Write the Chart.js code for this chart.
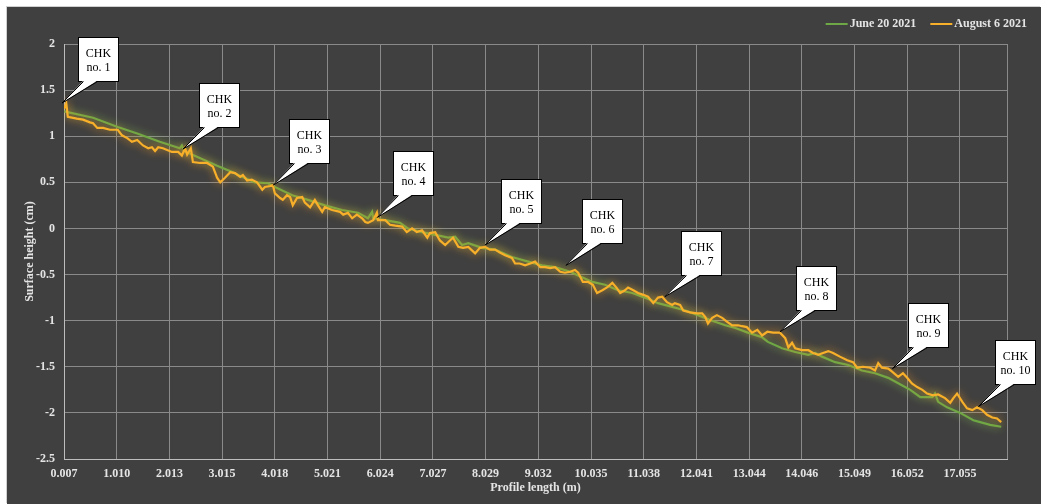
<!DOCTYPE html>
<html>
<head>
<meta charset="utf-8">
<script src="https://cdn.jsdelivr.net/npm/chart.js@4.4.0/dist/chart.umd.min.js"></script>
<style>
  html, body { margin: 0; padding: 0; background: #fff; }
  #wrap { position: absolute; left: 7px; top: 7px; width: 1034px; height: 497px; background: #404040; box-shadow: -1px -1px 0 #d0d0d0; }
  canvas { display: block; }
</style>
</head>
<body>
<div id="wrap"><canvas id="chart" width="1034" height="497"></canvas></div>
<script>
// profile readings: [profile length (m), surface height (cm)]
const june20 = [
  [0.01,1.27],[0.56,1.20],[1.03,1.10],[1.40,1.03],[1.83,0.94],[2.21,0.87],[2.25,0.90],[2.29,0.84],
  [2.60,0.76],[2.92,0.68],[3.22,0.61],[3.32,0.58],[3.64,0.50],[3.89,0.49],[4.02,0.45],[4.35,0.36],
  [4.65,0.31],[4.97,0.25],[5.30,0.20],[5.60,0.17],[5.79,0.11],[5.87,0.18],[5.89,0.11],[6.12,0.09],
  [6.40,0.06],[6.55,0.00],[6.82,-0.04],[7.07,-0.07],[7.32,-0.10],[7.45,-0.09],[7.58,-0.18],[7.70,-0.16],
  [7.96,-0.21],[8.21,-0.23],[8.53,-0.31],[8.84,-0.36],[9.10,-0.40],[9.35,-0.42],[9.64,-0.47],[9.79,-0.51],
  [10.06,-0.58],[10.30,-0.61],[10.55,-0.67],[10.82,-0.70],[11.06,-0.75],[11.31,-0.81],[11.58,-0.85],
  [11.83,-0.89],[12.07,-0.94],[12.34,-1.00],[12.59,-1.05],[12.78,-1.08],[13.02,-1.13],[13.29,-1.18],
  [13.40,-1.23],[13.67,-1.30],[13.92,-1.34],[14.17,-1.37],[14.30,-1.35],[14.43,-1.39],[14.68,-1.45],
  [14.93,-1.48],[15.19,-1.54],[15.44,-1.57],[15.69,-1.62],[15.95,-1.70],[16.11,-1.75],[16.30,-1.83],
  [16.53,-1.83],[16.58,-1.79],[16.64,-1.88],[16.81,-1.94],[17.06,-2.00],[17.31,-2.08],[17.44,-2.10],
  [17.63,-2.13],[17.84,-2.15]
];

const august6 = [
  [0.01,1.30],[0.05,1.36],[0.08,1.21],[0.25,1.19],[0.37,1.18],[0.50,1.15],[0.56,1.14],[0.64,1.09],
  [0.75,1.09],[0.88,1.07],[1.03,1.07],[1.11,1.01],[1.21,0.98],[1.30,0.94],[1.40,0.96],[1.51,0.90],
  [1.61,0.87],[1.68,0.88],[1.74,0.84],[1.80,0.88],[1.89,0.87],[2.06,0.83],[2.18,0.83],[2.25,0.79],
  [2.31,0.87],[2.35,0.80],[2.42,0.87],[2.46,0.72],[2.60,0.71],[2.73,0.71],[2.84,0.67],[2.92,0.55],
  [2.98,0.50],[3.07,0.55],[3.17,0.61],[3.26,0.60],[3.36,0.56],[3.41,0.58],[3.49,0.52],[3.58,0.53],
  [3.68,0.50],[3.78,0.42],[3.83,0.45],[3.93,0.46],[3.98,0.47],[4.02,0.38],[4.12,0.33],[4.17,0.31],
  [4.25,0.36],[4.31,0.34],[4.36,0.25],[4.44,0.33],[4.54,0.34],[4.59,0.28],[4.69,0.23],[4.78,0.31],
  [4.84,0.25],[4.92,0.18],[4.97,0.23],[5.11,0.20],[5.26,0.18],[5.32,0.15],[5.41,0.17],[5.49,0.11],
  [5.58,0.15],[5.68,0.11],[5.74,0.07],[5.79,0.06],[5.89,0.09],[5.96,0.17],[5.98,0.09],[6.12,0.09],
  [6.21,0.04],[6.31,0.03],[6.44,0.02],[6.53,-0.04],[6.63,0.00],[6.72,-0.04],[6.82,-0.02],[6.92,-0.10],
  [6.97,-0.05],[7.07,-0.04],[7.16,-0.13],[7.26,-0.18],[7.35,-0.13],[7.41,-0.10],[7.51,-0.20],[7.60,-0.21],
  [7.70,-0.20],[7.83,-0.27],[7.92,-0.21],[8.02,-0.20],[8.11,-0.23],[8.21,-0.23],[8.30,-0.26],[8.40,-0.29],
  [8.53,-0.32],[8.59,-0.38],[8.68,-0.38],[8.78,-0.40],[8.88,-0.38],[8.97,-0.36],[9.07,-0.42],[9.16,-0.42],
  [9.26,-0.43],[9.35,-0.42],[9.45,-0.47],[9.54,-0.48],[9.64,-0.47],[9.73,-0.45],[9.79,-0.48],[9.88,-0.58],
  [9.98,-0.58],[10.07,-0.61],[10.15,-0.70],[10.25,-0.67],[10.34,-0.64],[10.44,-0.59],[10.53,-0.65],
  [10.59,-0.70],[10.68,-0.67],[10.74,-0.64],[10.84,-0.67],[10.93,-0.70],[11.03,-0.72],[11.12,-0.74],
  [11.22,-0.81],[11.31,-0.75],[11.39,-0.74],[11.48,-0.80],[11.58,-0.83],[11.63,-0.81],[11.73,-0.83],
  [11.79,-0.89],[11.92,-0.91],[12.05,-0.92],[12.15,-0.92],[12.21,-0.96],[12.26,-1.03],[12.34,-0.97],
  [12.43,-0.94],[12.53,-0.97],[12.62,-1.01],[12.72,-1.05],[12.83,-1.05],[12.91,-1.06],[13.00,-1.07],
  [13.10,-1.13],[13.20,-1.10],[13.29,-1.16],[13.39,-1.12],[13.50,-1.13],[13.63,-1.13],[13.73,-1.19],
  [13.79,-1.29],[13.86,-1.24],[13.92,-1.30],[14.05,-1.32],[14.17,-1.32],[14.26,-1.35],[14.36,-1.37],
  [14.45,-1.35],[14.55,-1.33],[14.64,-1.35],[14.77,-1.39],[14.91,-1.43],[15.02,-1.45],[15.10,-1.51],
  [15.21,-1.50],[15.35,-1.51],[15.44,-1.54],[15.50,-1.46],[15.57,-1.51],[15.69,-1.52],[15.78,-1.56],
  [15.88,-1.61],[15.97,-1.57],[16.05,-1.62],[16.14,-1.68],[16.24,-1.72],[16.34,-1.75],[16.43,-1.79],
  [16.54,-1.81],[16.64,-1.80],[16.77,-1.84],[16.87,-1.89],[16.93,-1.84],[17.00,-1.79],[17.10,-1.88],
  [17.19,-1.95],[17.29,-1.97],[17.38,-1.94],[17.48,-1.97],[17.57,-2.02],[17.67,-2.05],[17.76,-2.06],
  [17.84,-2.10]
];

const xTicks = [0.007, 1.010, 2.013, 3.015, 4.018, 5.021, 6.024, 7.027, 8.029,
  9.032, 10.035, 11.038, 12.041, 13.044, 14.046, 15.049, 16.052, 17.055];

// checkpoints: label, profile length (m), surface height (cm)
const chkLabels = ["no. 1", "no. 2", "no. 3", "no. 4", "no. 5", "no. 6", "no. 7", "no. 8", "no. 9", "no. 10"];
const chkX = [-0.03, 2.27, 3.99, 5.97, 8.02, 9.56, 11.44, 13.63, 15.77, 17.41];
const chkY = [1.36, 0.86, 0.47, 0.12, -0.18, -0.40, -0.74, -1.12, -1.52, -1.93];

const SERIF = "'Liberation Serif', 'Times New Roman', serif";
const tickColor = "#e4e4e4";
const gridColor = "#8a8a8a";

const glowPlugin = {
  id: "glow",
  beforeDatasetDraw(chart, args) {
    const ds = chart.data.datasets[args.index];
    chart.ctx.save();
    chart.ctx.shadowColor = ds.glowColor;
    chart.ctx.shadowBlur = 9;
  },
  afterDatasetDraw(chart) {
    chart.ctx.restore();
  }
};

const frame = {
  id: "frame",
  beforeDatasetsDraw(chart) {
    const { ctx, chartArea: a } = chart;
    ctx.save();
    ctx.strokeStyle = gridColor;
    ctx.lineWidth = 1;
    ctx.beginPath();
    ctx.moveTo(Math.round(a.right) + 0.5, a.top);
    ctx.lineTo(Math.round(a.right) + 0.5, a.bottom);
    ctx.stroke();
    ctx.restore();
  }
};

const legendPlugin = {
  id: "customLegend",
  afterDraw(chart) {
    const ctx = chart.ctx;
    ctx.save();
    ctx.font = "bold 12px " + SERIF;
    ctx.textBaseline = "middle";
    const y = 17;
    let x = 1020;
    const items = chart.data.datasets.slice().reverse();
    items.forEach(ds => {
      const w = ctx.measureText(ds.label).width;
      x -= w;
      ctx.fillStyle = tickColor;
      ctx.textAlign = "left";
      ctx.fillText(ds.label, x, y);
      ctx.strokeStyle = ds.borderColor;
      ctx.lineWidth = 2;
      ctx.beginPath();
      ctx.moveTo(x - 24, y);
      ctx.lineTo(x - 2, y);
      ctx.stroke();
      x -= 24 + 14;
    });
    ctx.restore();
  }
};

const calloutPlugin = {
  id: "callouts",
  afterDraw(chart) {
    const { ctx, scales } = chart;
    ctx.save();
    chkLabels.forEach((lab, i) => {
      const tx = scales.x.getPixelForValue(chkX[i]);
      const ty = scales.y.getPixelForValue(chkY[i]);
      const left = Math.round(tx + 16) + 0.5;
      const bottom = Math.round(ty - 22) + 0.5;
      const w = 40, h = 44;
      const top = bottom - h;
      ctx.fillStyle = "#ffffff";
      ctx.strokeStyle = "#000000";
      ctx.lineWidth = 1;
      ctx.fillRect(left, top, w, h);
      ctx.strokeRect(left, top, w, h);
      // pointer
      ctx.beginPath();
      ctx.moveTo(left + 5, bottom - 1);
      ctx.lineTo(tx, ty);
      ctx.lineTo(left + 19, bottom - 1);
      ctx.closePath();
      ctx.fill();
      ctx.beginPath();
      ctx.moveTo(left + 5, bottom);
      ctx.lineTo(tx, ty);
      ctx.lineTo(left + 19, bottom);
      ctx.stroke();
      ctx.fillStyle = "#000000";
      ctx.font = "12px " + SERIF;
      ctx.textAlign = "center";
      ctx.textBaseline = "middle";
      ctx.fillText("CHK", left + w / 2, top + 16);
      ctx.fillText(lab, left + w / 2, top + 30);
    });
    ctx.restore();
  }
};

const toPoints = arr => arr.map(p => ({ x: p[0], y: p[1] }));

new Chart(document.getElementById("chart"), {
  type: "line",
  data: {
    datasets: [
      {
        label: "June 20 2021",
        data: toPoints(june20),
        borderColor: "#6ea846",
        glowColor: "rgba(150,210,90,0.8)",
        borderWidth: 2.2,
        pointRadius: 0,
        tension: 0,
        order: 2
      },
      {
        label: "August 6 2021",
        data: toPoints(august6),
        borderColor: "#f8b02a",
        glowColor: "rgba(255,160,30,0.85)",
        borderWidth: 2.2,
        pointRadius: 0,
        tension: 0,
        order: 1
      }
    ]
  },
  options: {
    responsive: false,
    animation: false,
    devicePixelRatio: 1,
    layout: { padding: { top: 37, right: 34, left: 0, bottom: 0 } },
    plugins: { legend: { display: false }, tooltip: { enabled: false } },
    scales: {
      x: {
        type: "linear",
        min: 0.007,
        max: 17.95,
        afterBuildTicks: s => { s.ticks = xTicks.map(v => ({ value: v })); },
        afterFit: s => { s.height = 45; },
        ticks: {
          callback: v => Number(v).toFixed(3),
          color: tickColor,
          font: { family: SERIF, size: 12, weight: "bold" },
          padding: 8,
          maxRotation: 0,
          autoSkip: false
        },
        grid: { color: gridColor, drawTicks: false },
        border: { color: "#bdbdbd" },
        title: {
          display: true,
          text: "Profile length (m)",
          color: tickColor,
          font: { family: SERIF, size: 12, weight: "bold" },
          padding: { top: 4, bottom: 9 }
        }
      },
      y: {
        min: -2.5,
        max: 2,
        afterFit: s => { s.width = 57; },
        ticks: {
          stepSize: 0.5,
          callback: v => String(Math.round(v * 10) / 10),
          color: tickColor,
          font: { family: SERIF, size: 12, weight: "bold" },
          padding: 9
        },
        grid: { color: gridColor, drawTicks: false },
        border: { color: "#bdbdbd" },
        title: {
          display: true,
          text: "Surface height (cm)",
          color: tickColor,
          font: { family: SERIF, size: 12, weight: "bold" },
          padding: { top: 16, bottom: 4 }
        }
      }
    }
  },
  plugins: [glowPlugin, frame, calloutPlugin, legendPlugin]
});
</script>
</body>
</html>
